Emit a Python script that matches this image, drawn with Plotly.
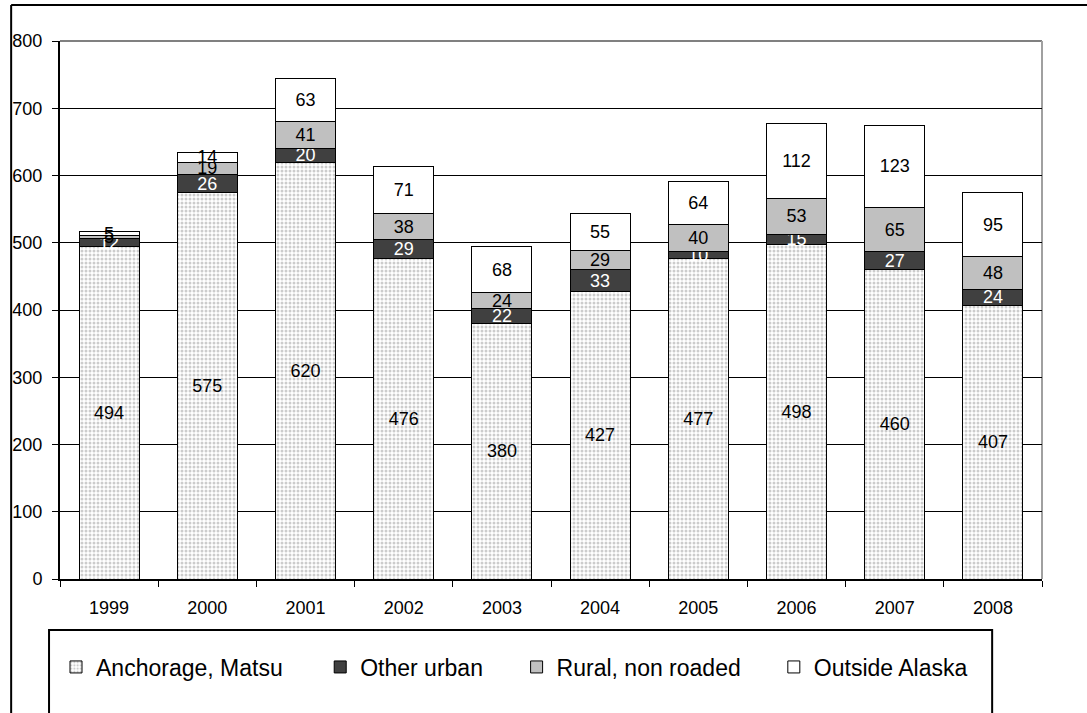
import plotly.graph_objects as go

years = ["1999", "2000", "2001", "2002", "2003", "2004", "2005", "2006", "2007", "2008"]
anchorage = [494, 575, 620, 476, 380, 427, 477, 498, 460, 407]
other_urban = [12, 26, 20, 29, 22, 33, 10, 15, 27, 24]
rural = [5, 19, 41, 38, 24, 29, 40, 53, 65, 48]
outside = [5, 14, 63, 71, 68, 55, 64, 112, 123, 95]

FONT = "Liberation Sans, Arial, sans-serif"
W, H = 1087, 713
L, R, T, B = 57, 45, 41, 134
PW, PH = W - L - R, H - T - B


def px(x):
    """page x pixel -> paper coordinate"""
    return (x - L) / PW


def py(y):
    """page y pixel -> paper coordinate"""
    return (H - B - y) / PH


series = [
    ("Anchorage, Matsu", anchorage, "white", "black",
     dict(shape=".", fgcolor="#9a9a9a", bgcolor="white", size=4, solidity=0.45), "legend", 95),
    ("Other urban", other_urban, "#404040", "white", None, "legend2", 360),
    ("Rural, non roaded", rural, "#c0c0c0", "black", None, "legend3", 557),
    ("Outside Alaska", outside, "white", "black", None, "legend4", 815),
]

fig = go.Figure()
for name, vals, color, tcolor, pattern, leg, _ in series:
    marker = dict(color=color, line=dict(color="black", width=1))
    if pattern:
        marker["pattern"] = pattern
    fig.add_trace(go.Bar(
        x=years, y=vals, name=name, marker=marker,
        text=[str(v) for v in vals], textposition="inside", textangle=0,
        insidetextanchor="middle", constraintext="none",
        textfont=dict(family=FONT, size=18, color=tcolor),
        legend=leg, hoverinfo="skip",
    ))

layout_legends = {}
for name, vals, color, tcolor, pattern, leg, tx in series:
    layout_legends[leg] = dict(
        x=px(tx - 42), xanchor="left", y=py(667), yanchor="middle",
        bgcolor="rgba(0,0,0,0)", borderwidth=0,
        font=dict(family=FONT, size=23, color="black"),
        itemwidth=30,
    )

shapes = [
    # outer frame (top and left)
    dict(type="line", xref="paper", yref="paper", x0=px(8), x1=px(1100), y0=py(5), y1=py(5),
         line=dict(color="black", width=2)),
    dict(type="line", xref="paper", yref="paper", x0=px(8), x1=px(8), y0=py(5), y1=py(730),
         line=dict(color="black", width=2)),
    # plot area border top/right (gray)
    dict(type="line", xref="paper", yref="paper", x0=0, x1=1, y0=1, y1=1,
         line=dict(color="#808080", width=2), layer="below"),
    dict(type="line", xref="paper", yref="paper", x0=1, x1=1, y0=0, y1=1,
         line=dict(color="#a0a0a0", width=2), layer="below"),
    # legend box
    dict(type="rect", xref="paper", yref="paper", x0=px(46), x1=px(992), y0=py(630), y1=py(740),
         line=dict(color="black", width=2), fillcolor="rgba(0,0,0,0)"),
]

fig.update_layout(
    width=W, height=H,
    margin=dict(l=L, r=R, t=T, b=B),
    barmode="stack", bargap=0.39,
    paper_bgcolor="white", plot_bgcolor="white",
    font=dict(family=FONT, size=18, color="black"),
    showlegend=True,
    shapes=shapes,
    **layout_legends,
)
fig.update_xaxes(
    type="category", showgrid=False, showline=True, linecolor="black", linewidth=2,
    ticks="outside", tickson="boundaries", ticklen=6, tickcolor="black", tickwidth=1,
    tickfont=dict(family=FONT, size=18, color="black"), ticklabelstandoff=11,
)
fig.update_yaxes(
    range=[0, 800], dtick=100, showgrid=True, gridcolor="black", gridwidth=1,
    showline=True, linecolor="black", linewidth=2, ticks="outside", ticklen=6,
    tickcolor="black", tickfont=dict(family=FONT, size=18, color="black"),
    ticklabelstandoff=6, zeroline=False,
)

fig.write_html(
    "out.html",
    config={"displayModeBar": False},
    post_script="document.body.style.margin='0';document.body.style.overflow='hidden';",
)
